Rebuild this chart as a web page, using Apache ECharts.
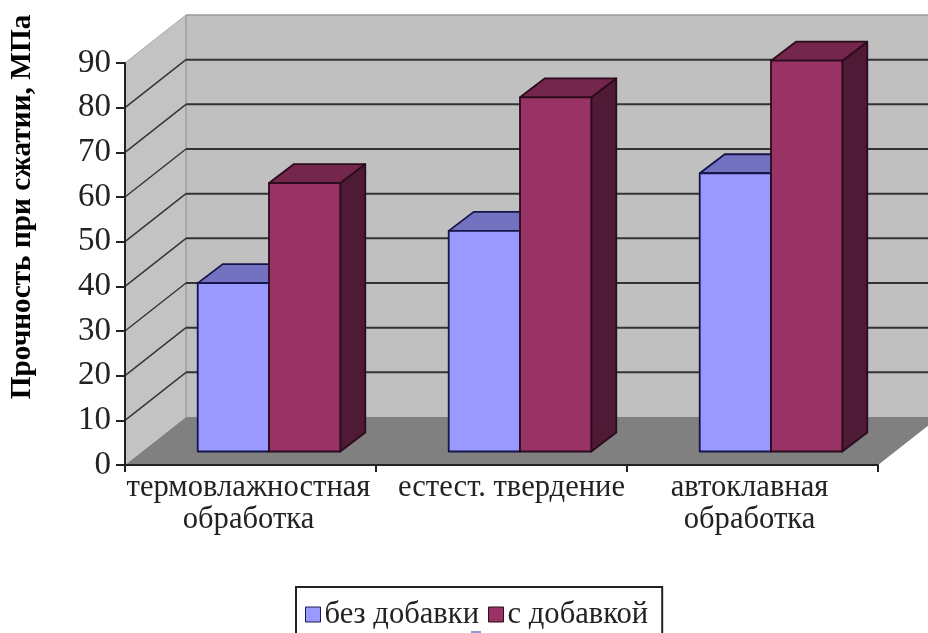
<!DOCTYPE html>
<html>
<head>
<meta charset="utf-8">
<style>html,body{margin:0;padding:0;background:#fff;overflow:hidden}#c{width:928px;height:633px}</style>
<script src="https://cdn.jsdelivr.net/npm/echarts@6/dist/echarts.min.js"></script>
</head>
<body>
<div id="c"></div>
<script>
// Compressive strength by curing regime, drawn as a pseudo-3D column chart.
const categories = ['термовлажностная\nобработка', 'естест. твердение', 'автоклавная\nобработка'];
const withoutAdditive = [37.7, 49.4, 62.3];
const withAdditive = [60.1, 79.3, 87.5];
const yTicks = [0, 10, 20, 30, 40, 50, 60, 70, 80, 90];
const seriesNames = ['без добавки', 'с добавкой'];
const yTitle = 'Прочность при сжатии, МПа';

const FONT = '"Liberation Serif", "Times New Roman", serif';
const TEXT = '#222';
// Projection of the chart box: how far the back wall sits from the front plane.
const WALL_DX = 61, WALL_DY = -48;
// Columns stand part-way into the box and have their own depth.
const BAR_OFF_X = 18.5, BAR_OFF_Y = -13.5, BAR_DX = 25, BAR_DY = -19;
const BAR_SHARE = 0.284;

const chart = echarts.init(document.getElementById('c'), null, { renderer: 'canvas' });

function poly(points, fill, stroke, lineWidth) {
  return {
    type: 'polygon',
    shape: { points },
    style: { fill, stroke: stroke || null, lineWidth: lineWidth || 0, lineJoin: 'round' }
  };
}
function seg(x1, y1, x2, y2, stroke, lineWidth) {
  return { type: 'line', shape: { x1, y1, x2, y2 }, style: { stroke, lineWidth } };
}

// Floor, walls and the gridlines that run across them.
function renderBox(params, api) {
  const cs = params.coordSys;
  const left = cs.x, right = cs.x + cs.width;
  const y0 = api.coord([0, 0])[1];
  const yTop = api.coord([0, yTicks[yTicks.length - 1]])[1];
  const children = [
    poly([[left + WALL_DX, yTop + WALL_DY], [right + WALL_DX, yTop + WALL_DY], [right + WALL_DX, y0 + WALL_DY], [left + WALL_DX, y0 + WALL_DY]], '#c0c0c0'),
    poly([[left, y0], [left + WALL_DX, y0 + WALL_DY], [left + WALL_DX, yTop + WALL_DY], [left, yTop]], '#c3c3c3'),
    poly([[left, y0], [left + WALL_DX, y0 + WALL_DY], [right + WALL_DX, y0 + WALL_DY], [right, y0]], '#808080'),
    seg(left + WALL_DX, yTop + WALL_DY, left + WALL_DX, y0 + WALL_DY, '#8c8c8c', 1),
    seg(left + WALL_DX, yTop + WALL_DY, right + WALL_DX, yTop + WALL_DY, '#9a9a9a', 1.5),
    seg(left, yTop, left + WALL_DX, yTop + WALL_DY, '#a8a8a8', 1)
  ];
  yTicks.forEach(function (t) {
    if (t === 0 || t === yTicks[yTicks.length - 1]) return;
    const y = api.coord([0, t])[1];
    children.push(seg(left + WALL_DX, y + WALL_DY, right + WALL_DX, y + WALL_DY, '#333', 2));
    children.push(seg(left, y, left + WALL_DX, y + WALL_DY, '#333', 1.4));
  });
  return { type: 'group', children };
}

// One extruded column; `side` puts it left (-1) or right (0) of the category centre.
function columnRenderer(side, front, top, flank, edge) {
  return function (params, api) {
    const idx = api.value(0);
    const base = api.coord([idx, 0]);
    const head = api.coord([idx, api.value(1)]);
    const w = api.size([1, 0])[0] * BAR_SHARE;
    const xl = base[0] + BAR_OFF_X + side * w;
    const xr = xl + w;
    const yb = base[1] + BAR_OFF_Y;
    const yt = head[1] + BAR_OFF_Y;
    return {
      type: 'group',
      children: [
        poly([[xr, yb], [xr + BAR_DX, yb + BAR_DY], [xr + BAR_DX, yt + BAR_DY], [xr, yt]], flank, edge, 1.8),
        poly([[xl, yt], [xl + BAR_DX, yt + BAR_DY], [xr + BAR_DX, yt + BAR_DY], [xr, yt]], top, edge, 1.8),
        poly([[xl, yb], [xr, yb], [xr, yt], [xl, yt]], front, edge, 1.8)
      ]
    };
  };
}

const pairs = function (values) { return values.map(function (v, i) { return [i, v]; }); };

chart.setOption({
  animation: false,
  backgroundColor: '#fff',
  grid: { left: 125, right: 50, top: 63, bottom: 168, containLabel: false, outerBoundsMode: 'none' },
  legend: {
    data: [
      { name: seriesNames[0], itemStyle: { borderColor: '#1c1c50', borderWidth: 1 } },
      { name: seriesNames[1], itemStyle: { borderColor: '#2a0c1c', borderWidth: 1 } }
    ],
    left: 296,
    top: 587,
    orient: 'horizontal',
    icon: 'rect',
    itemWidth: 15,
    itemHeight: 15,
    itemGap: 9,
    padding: [12, 14, 60, 9],
    borderColor: '#222',
    borderWidth: 2,
    backgroundColor: '#fff',
    selectedMode: false,
    textStyle: { fontFamily: FONT, fontSize: 30.6, color: TEXT, padding: [0, 0, 0, -1] }
  },
  xAxis: {
    type: 'category',
    data: [
      { value: categories[0], textStyle: { padding: [0, 4, 0, 0] } },
      { value: categories[1], textStyle: { padding: [0, 0, 0, 20] } },
      { value: categories[2], textStyle: { padding: [0, 6, 0, 0] } }
    ],
    boundaryGap: true,
    axisLine: { onZero: false, lineStyle: { color: '#222', width: 2 } },
    axisTick: { show: true, length: 7, lineStyle: { color: '#222', width: 2 } },
    axisLabel: {
      interval: 0, hideOverlap: false, fontFamily: FONT, fontSize: 30.6, color: TEXT,
      lineHeight: 32, margin: 7, width: 300, overflow: 'none'
    },
    splitLine: { show: false }, z: 5
  },
  yAxis: {
    type: 'value',
    min: 0,
    max: 90,
    interval: 10,
    name: yTitle,
    nameLocation: 'middle',
    nameRotate: 90,
    nameGap: 88,
    nameTextStyle: { fontFamily: FONT, fontSize: 29.3, fontWeight: 'bold', color: '#000', padding: [0, 0, 0, 114] },
    axisLine: { show: true, lineStyle: { color: '#222', width: 2 } },
    axisTick: { show: true, length: 9, lineStyle: { color: '#222', width: 2 } },
    axisLabel: { fontFamily: FONT, fontSize: 33, color: TEXT, margin: 14, padding: [4, 0, 0, 0], showMinLabel: true, showMaxLabel: true },
    splitLine: { show: false }, z: 5
  },
  series: [
    { name: 'box', type: 'custom', coordinateSystem: 'cartesian2d', silent: true, clip: false,
      data: [[0, 0]], encode: { x: 0, y: 1 }, renderItem: renderBox, z: 1 },
    { name: seriesNames[0], type: 'custom', coordinateSystem: 'cartesian2d', silent: true, clip: false,
      itemStyle: { color: '#9999ff' }, data: pairs(withoutAdditive), encode: { x: 0, y: 1 },
      renderItem: columnRenderer(-1, '#9999ff', '#7272c0', '#4a4a80', '#14144a'), z: 2 },
    { name: seriesNames[1], type: 'custom', coordinateSystem: 'cartesian2d', silent: true, clip: false,
      itemStyle: { color: '#993366' }, data: pairs(withAdditive), encode: { x: 0, y: 1 },
      renderItem: columnRenderer(0, '#993366', '#74264c', '#4f1a35', '#2a0c1c'), z: 3 }
  ],
  graphic: [
    // Corner of a further legend swatch, cut off by the lower page edge.
    { type: 'rect', shape: { x: 471, y: 631, width: 10, height: 3 }, style: { fill: '#8f9fcc' }, z: 20 }
  ]
});
</script>
</body>
</html>
